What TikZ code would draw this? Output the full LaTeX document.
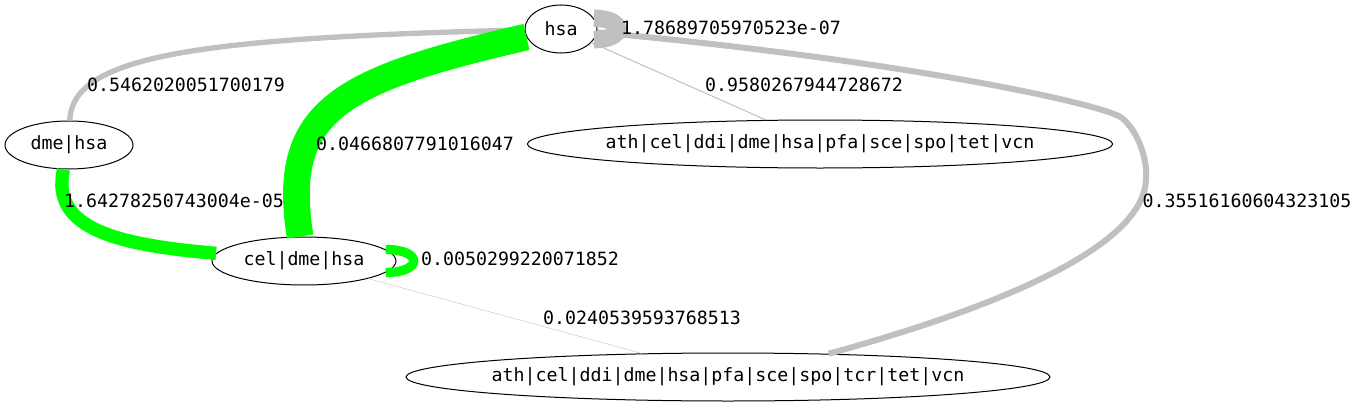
\documentclass[tikz,border=0pt]{standalone}
\usepackage{fontspec}
\setmonofont{DejaVu Sans Mono}
\usepackage{tikz}
\usetikzlibrary{shapes.geometric}
\definecolor{edgegray}{HTML}{C0C0C0}
\definecolor{edgegreen}{HTML}{00FF00}

\begin{document}
\begin{tikzpicture}
    [
    x=0.75pt, y=-0.75pt,
    every node/.style={font=\fontsize{13.7pt}{16pt}\selectfont\ttfamily},
    species/.style={ellipse,draw,line width=0.75pt,inner sep=0pt,minimum height=36pt},
    weight/.style={inner sep=0pt},
    greenedge/.style={draw=edgegreen},
    grayedge/.style={draw=edgegray},
    ]
    \useasboundingbox (0,0) rectangle (1357,407);
    % species sets
    \node[species,minimum width=54pt] (hsa) at (561,29) {hsa};
    \node[species,minimum width=96pt] (dme) at (69,145) {dme|hsa};
    \node[species,minimum width=138pt] (cel) at (304,261) {cel|dme|hsa};
    \node[species,inner xsep=-6pt,minimum width=439pt] (tet) at (820,144) {ath|cel|ddi|dme|hsa|pfa|sce|spo|tet|vcn};
    \node[species,inner xsep=-6.7pt,minimum width=483pt] (tcr) at (728,377) {ath|cel|ddi|dme|hsa|pfa|sce|spo|tcr|tet|vcn};
    % weighted edges
    \path
        (hsa.18) edge [grayedge,line width=13pt,out=0,in=0,distance=24pt] (hsa.-18)
        (hsa) edge [grayedge,line width=0.75pt] (tet)
        (cel.8) edge [greenedge,line width=7pt,out=0,in=0,distance=28pt] (cel.-8)
        (cel) edge [draw=black!20,line width=0.4pt] (tcr)
    ;
    \draw[grayedge,line width=4pt] (hsa) .. controls (200,38) and (72,55) .. (dme);
    \draw[greenedge,line width=20pt] (hsa) .. controls (340,80) and (280,110) .. (cel);
    \draw[greenedge,line width=10pt] (dme) .. controls (50,230) and (120,245) .. (cel);
    \draw[grayedge,line width=4.5pt] (hsa) .. controls (900,60) and (1104,104) .. (1122,118)
        .. controls (1138,131) and (1148,160) .. (1146,180)
        .. controls (1144,230) and (1060,290) .. (tcr.13);
    % weights
    \node[weight] (w1) at (731,28) {1.78689705970523e-07};
    \node[weight] (w2) at (186,85) {0.5462020051700179};
    \node[weight] (w3) at (804,85) {0.9580267944728672};
    \node[weight] (w4) at (415,144) {0.0466807791016047};
    \node[weight] (w5) at (174,201) {1.64278250743004e-05};
    \node[weight] (w6) at (1247,201) {0.35516160604323105};
    \node[weight] (w7) at (520,259) {0.0050299220071852};
    \node[weight] (w8) at (642,318) {0.0240539593768513};
\end{tikzpicture}
\end{document}
